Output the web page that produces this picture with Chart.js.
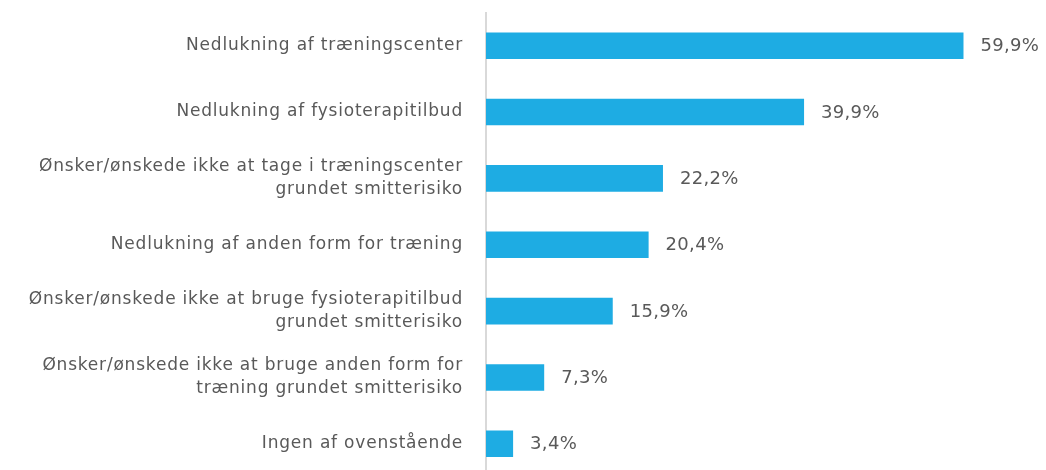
<!DOCTYPE html>
<html lang="da">
<head>
    <meta charset="UTF-8">
    <title>Årsager</title>
    <style>
        html, body {
            margin: 0;
            padding: 0;
            background: #fff;
            overflow: hidden;
        }
        .chart-box {
            position: relative;
            width: 1046px;
            height: 477px;
        }
    </style>
    <script src="https://cdn.jsdelivr.net/npm/chart.js"></script>
</head>
<body>
    <div class="chart-box">
        <canvas id="barChart"></canvas>
    </div>

    <script>
        // Data
        const categories = [
            'Nedlukning af træningscenter',
            'Nedlukning af fysioterapitilbud',
            ['Ønsker/ønskede ikke at tage i træningscenter', 'grundet smitterisiko'],
            'Nedlukning af anden form for træning',
            ['Ønsker/ønskede ikke at bruge fysioterapitilbud', 'grundet smitterisiko'],
            ['Ønsker/ønskede ikke at bruge anden form for', 'træning grundet smitterisiko'],
            'Ingen af ovenstående'
        ];
        const percentages = [59.9, 39.9, 22.2, 20.4, 15.9, 7.3, 3.4];

        const fontFamily = "'DejaVu Sans', sans-serif";
        const textColor = '#595959';

        // a bit of letter spacing so the labels get the wide look of the original
        const spacing = {
            id: 'spacing',
            beforeDraw(chart) {
                chart.ctx.letterSpacing = '0.8px';
            },
            afterDraw(chart) {
                chart.ctx.letterSpacing = '0px';
            }
        };

        // Draws the value labels to the right of each bar
        const valueLabels = {
            id: 'valueLabels',
            afterDatasetsDraw(chart) {
                const ctx = chart.ctx;
                const meta = chart.getDatasetMeta(0);
                ctx.save();
                ctx.letterSpacing = '0.3px';
                ctx.font = '18px ' + fontFamily;
                ctx.fillStyle = textColor;
                ctx.textAlign = 'left';
                ctx.textBaseline = 'middle';
                meta.data.forEach(function(bar, i) {
                    const txt = percentages[i].toFixed(1).replace('.', ',') + '%';
                    ctx.fillText(txt, bar.x + 17, bar.y + 1);
                });
                ctx.restore();
            }
        };

        new Chart(document.getElementById('barChart'), {
            type: 'bar',
            data: {
                labels: categories,
                datasets: [{
                    data: percentages,
                    backgroundColor: '#1eace3',
                    borderWidth: 0,
                    categoryPercentage: 0.4,
                    barPercentage: 1
                }]
            },
            options: {
                indexAxis: 'y',
                responsive: true,
                maintainAspectRatio: false,
                animation: false,
                layout: {
                    padding: { top: 12.5, right: 2, bottom: 0, left: 0 }
                },
                plugins: {
                    legend: { display: false },
                    tooltip: { enabled: false }
                },
                scales: {
                    x: {
                        display: false,
                        min: 0,
                        max: 70
                    },
                    y: {
                        grid: { display: false },
                        border: { display: true, color: '#d9d9d9', width: 2 },
                        ticks: {
                            color: textColor,
                            padding: 15,
                            font: { family: fontFamily, size: 17, lineHeight: 1.35 }
                        },
                        afterFit(scale) {
                            // fixed axis position, no extra label padding
                            scale.width = 486;
                            scale.paddingTop = 0;
                            scale.paddingBottom = 0;
                        }
                    }
                }
            },
            plugins: [spacing, valueLabels]
        });
    </script>
</body>
</html>
